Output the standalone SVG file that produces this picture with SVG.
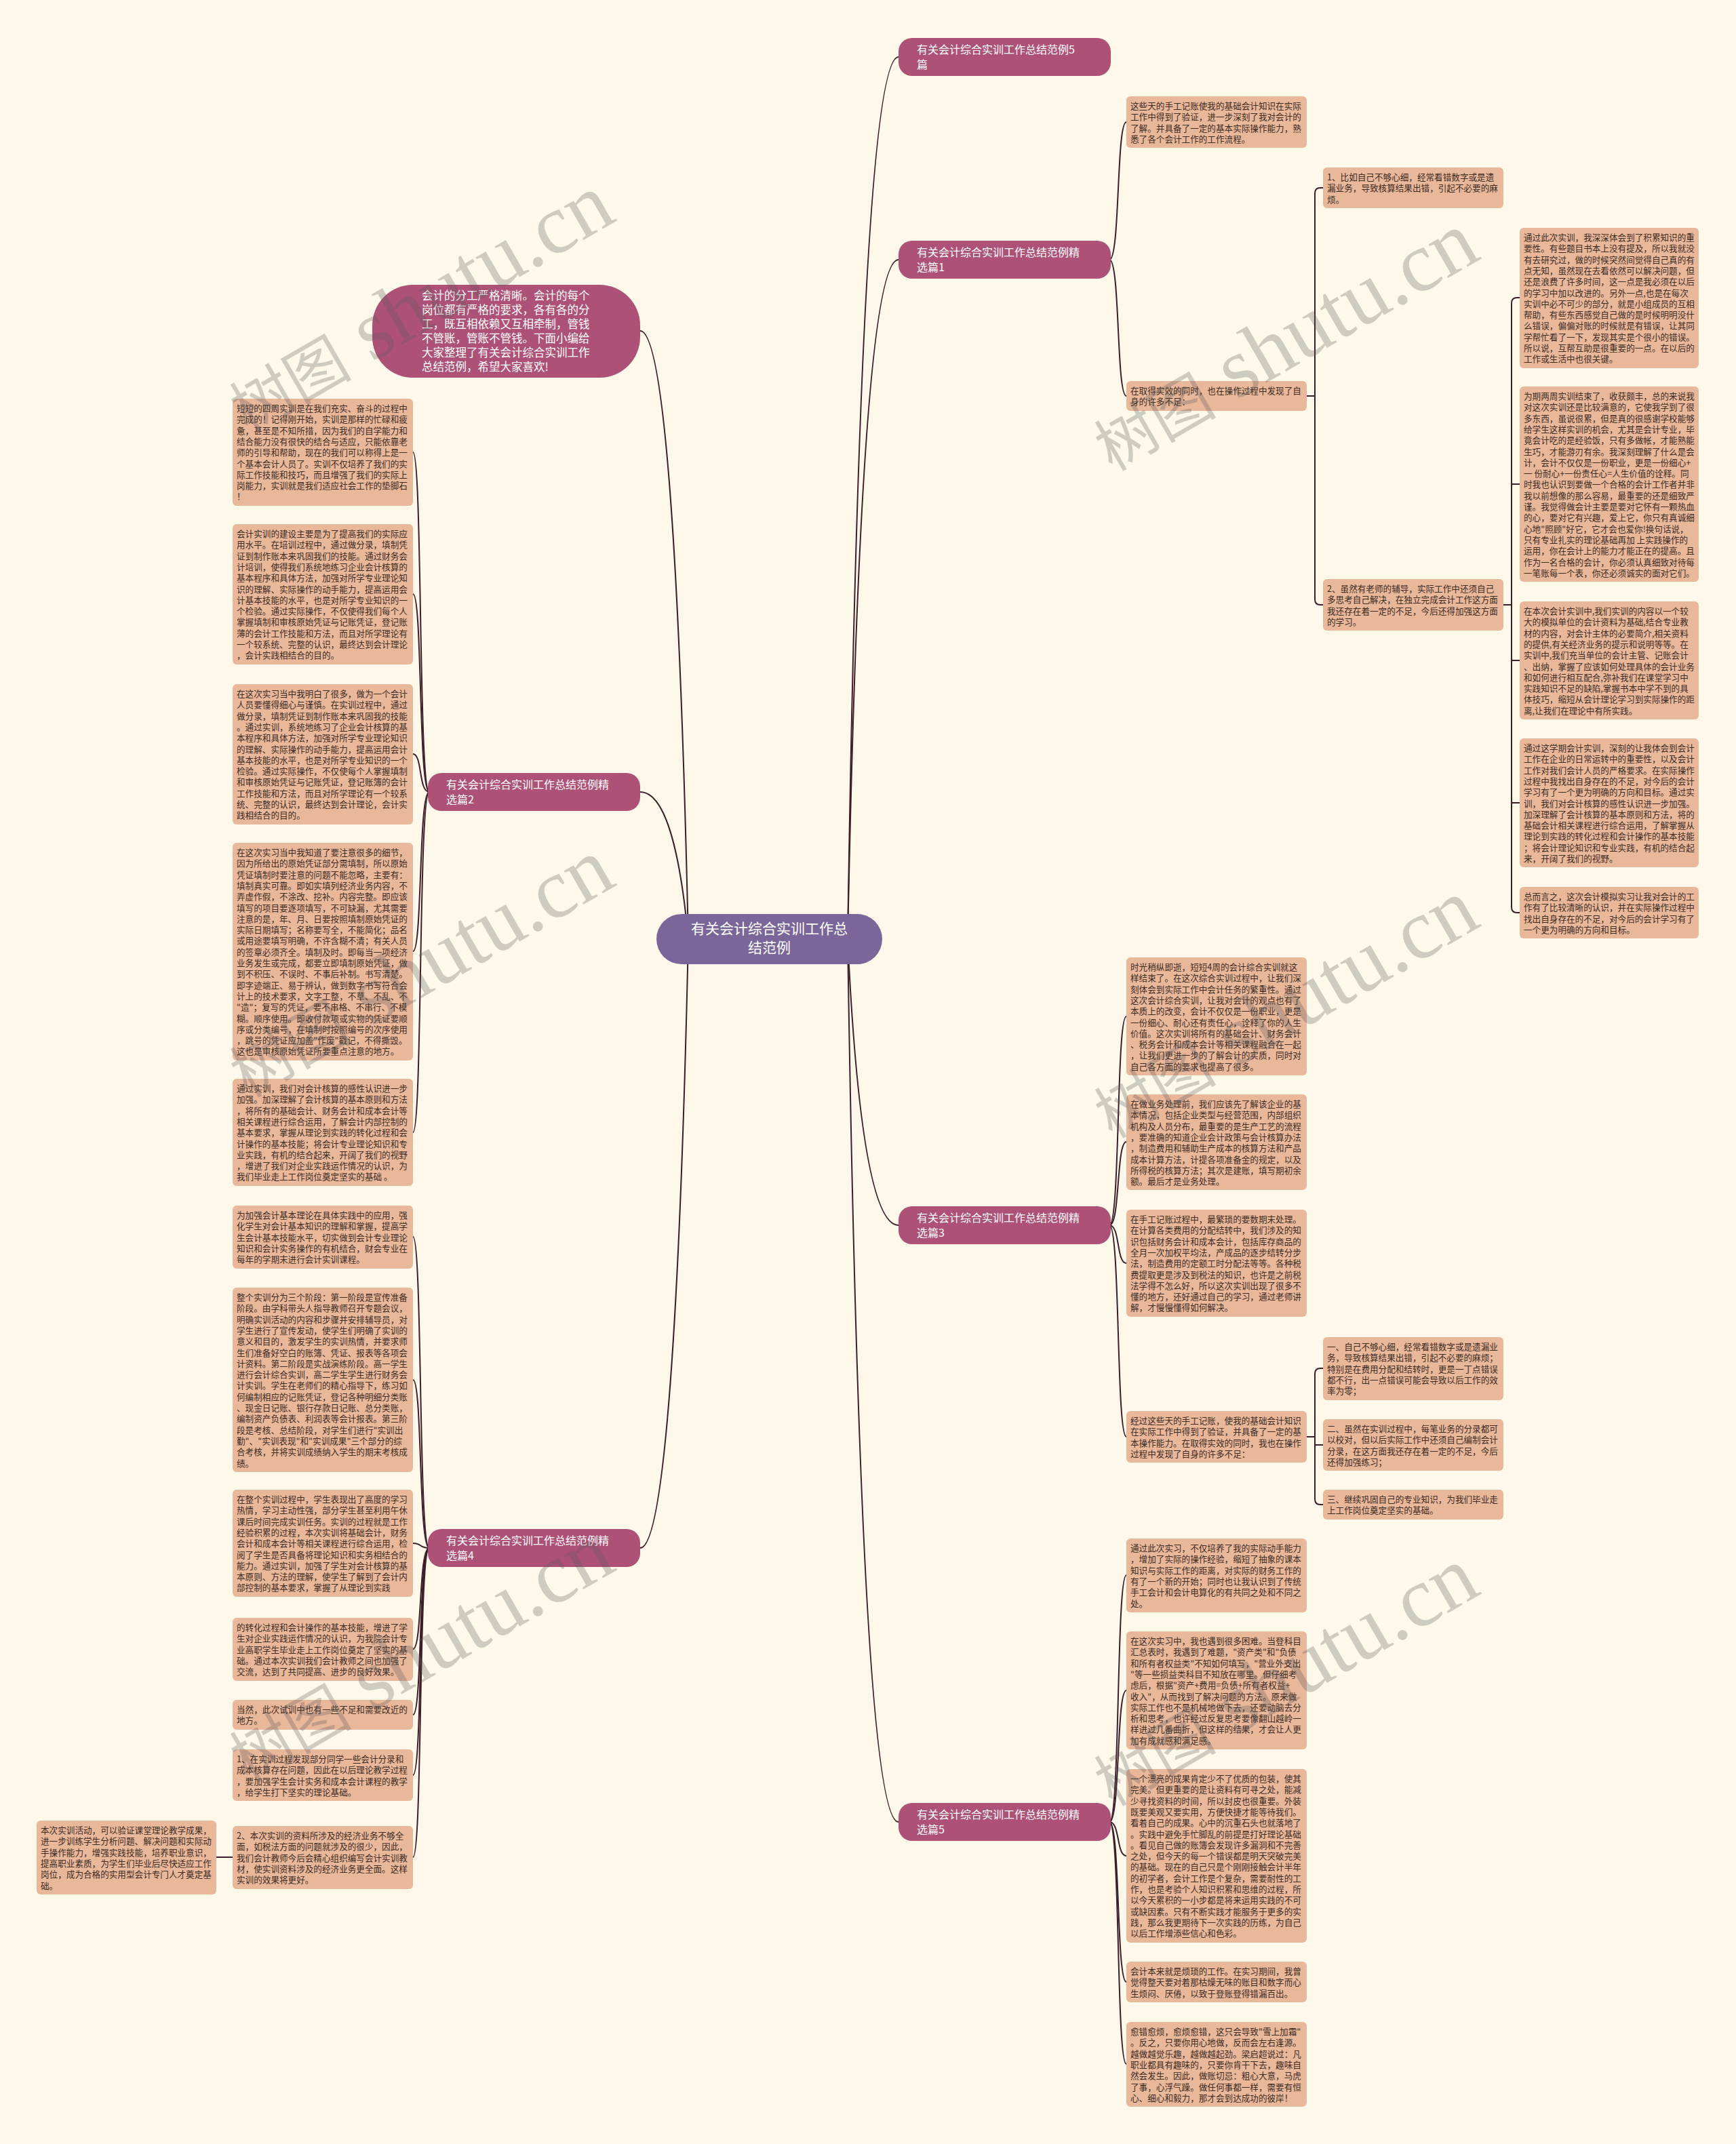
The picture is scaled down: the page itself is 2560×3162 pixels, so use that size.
<svg xmlns="http://www.w3.org/2000/svg" width="2560" height="3162" viewBox="0 0 2560 3162">
<style>
.bg{fill:#fdf8e9}
.leaf rect{fill:#e9b89b}
.leaf text{font-family:"Noto Sans CJK SC","Noto Sans",sans-serif;font-size:12.6px;fill:#3d2b1f}
.br rect{fill:#ad5276}
.br text{font-family:"Noto Sans CJK SC","Noto Sans",sans-serif;font-size:16px;fill:#ffffff}
.ct rect{fill:#7b6699}
.ct text{font-family:"Noto Sans CJK SC","Noto Sans",sans-serif;font-size:21px;fill:#ffffff;text-anchor:middle}
.intro text{font-family:"Noto Sans CJK SC","Noto Sans",sans-serif;font-size:16.5px;fill:#ffffff}
.conn path{fill:none;stroke:#3d1f2a;stroke-width:2}
.wm{font-family:"Noto Sans CJK SC",sans-serif;fill:#555555;fill-opacity:0.28}
.wm .en{font-family:"Liberation Serif",serif}
</style>
<rect class="bg" x="0" y="0" width="2560" height="3162"/>

<g id="connectors" class="conn">
<path d="M1250 1385 C1260 735,1280 84,1325 84"/>
<path d="M1250 1385 C1260 884,1280 383,1325 383"/>
<path d="M1250 1385 C1260 1596,1280 1807,1325 1807"/>
<path d="M1250 1385 C1260 2036,1280 2687,1325 2687"/>
<path d="M1015 1385 C1005 937,985 488,944 488"/>
<path d="M1015 1385 C1005 1276,985 1168,944 1168"/>
<path d="M1015 1385 C1005 1834,985 2283,944 2283"/>
<path d="M1636 383 C1652 383,1646 180,1661 180"/>
<path d="M1636 383 C1652 383,1646 584,1661 584"/>
<path d="M1636 1807 C1652 1807,1646 1499,1661 1499"/>
<path d="M1636 1807 C1652 1807,1646 1684,1661 1684"/>
<path d="M1636 1807 C1652 1807,1646 1863,1661 1863"/>
<path d="M1636 1807 C1652 1807,1646 2119,1661 2119"/>
<path d="M1636 2687 C1652 2687,1646 2323,1661 2323"/>
<path d="M1636 2687 C1652 2687,1646 2493,1661 2493"/>
<path d="M1636 2687 C1652 2687,1646 2737,1661 2737"/>
<path d="M1636 2687 C1652 2687,1646 2923,1661 2923"/>
<path d="M1636 2687 C1652 2687,1646 3044,1661 3044"/>
<path d="M633 1168 C617 1168,623 667,609 667"/>
<path d="M633 1168 C617 1168,623 876,609 876"/>
<path d="M633 1168 C617 1168,623 1112,609 1112"/>
<path d="M633 1168 C617 1168,623 1403,609 1403"/>
<path d="M633 1168 C617 1168,623 1670,609 1670"/>
<path d="M633 2283 C617 2283,623 1824,609 1824"/>
<path d="M633 2283 C617 2283,623 2035,609 2035"/>
<path d="M633 2283 C617 2283,623 2276,609 2276"/>
<path d="M633 2283 C617 2283,623 2432,609 2432"/>
<path d="M633 2283 C617 2283,623 2529,609 2529"/>
<path d="M633 2283 C617 2283,623 2618,609 2618"/>
<path d="M633 2283 C617 2283,623 2739,609 2739"/>
<path d="M1927 584 H1939"/>
<path d="M1951 277 H1947 Q1939 277 1939 285 V884 Q1939 892 1947 892 H1951"/>
<path d="M2217 892 H2229"/>
<path d="M2241 439 H2237 Q2229 439 2229 447 V1338 Q2229 1346 2237 1346 H2241"/>
<path d="M2229 714 H2241"/>
<path d="M2229 974 H2241"/>
<path d="M2229 1184 H2241"/>
<path d="M1927 2119 H1939"/>
<path d="M1951 2018 H1947 Q1939 2018 1939 2026 V2211 Q1939 2219 1947 2219 H1951"/>
<path d="M1939 2131 H1951"/>
<path d="M343 2739 H319"/>
</g>

<g id="center" class="ct">
<rect x="968" y="1348" width="333" height="74" rx="37"/>
<text x="1134.5" y="1377">有关会计综合实训工作总</text>
<text x="1134.5" y="1405">结范例</text>
</g>

<g id="intro" class="intro">
<rect x="549" y="420" width="395" height="137" rx="60" fill="#ad5276"/>
<text x="622" y="442">会计的分工严格清晰。会计的每个</text>
<text x="622" y="463">岗位都有严格的要求，各有各的分</text>
<text x="622" y="484">工，既互相依赖又互相牵制，管钱</text>
<text x="622" y="505">不管账，管账不管钱。下面小编给</text>
<text x="622" y="526">大家整理了有关会计综合实训工作</text>
<text x="622" y="547">总结范例，希望大家喜欢!</text>
</g>

<g id="n-5pian" class="br"><rect x="1325" y="56" width="313" height="56" rx="20"/><text x="1352" y="79">有关会计综合实训工作总结范例5</text><text x="1352" y="101">篇</text></g>
<g id="n-p1" class="br"><rect x="1325" y="355" width="313" height="56" rx="20"/><text x="1352" y="378">有关会计综合实训工作总结范例精</text><text x="1352" y="400">选篇1</text></g>
<g id="n-p3" class="br"><rect x="1325" y="1779" width="313" height="56" rx="20"/><text x="1352" y="1802">有关会计综合实训工作总结范例精</text><text x="1352" y="1824">选篇3</text></g>
<g id="n-p5" class="br"><rect x="1325" y="2659" width="313" height="56" rx="20"/><text x="1352" y="2682">有关会计综合实训工作总结范例精</text><text x="1352" y="2704">选篇5</text></g>
<g id="n-p2" class="br"><rect x="631" y="1140" width="313" height="56" rx="20"/><text x="658" y="1163">有关会计综合实训工作总结范例精</text><text x="658" y="1185">选篇2</text></g>
<g id="n-p4" class="br"><rect x="631" y="2255" width="313" height="56" rx="20"/><text x="658" y="2278">有关会计综合实训工作总结范例精</text><text x="658" y="2300">选篇4</text></g>

<g id="r0" class="leaf"><rect x="1661" y="142" width="266" height="76" rx="6"/><text x="1667" y="161"><tspan x="1667">这些天的手工记账使我的基础会计知识在实际</tspan><tspan x="1667" dy="16.3">工作中得到了验证，进一步深刻了我对会计的</tspan><tspan x="1667" dy="16.3">了解。并具备了一定的基本实际操作能力，熟</tspan><tspan x="1667" dy="16.3">悉了各个会计工作的工作流程。</tspan></text></g>
<g id="r1a" class="leaf"><rect x="1661" y="562" width="266" height="44" rx="6"/><text x="1667" y="581"><tspan x="1667">在取得实效的同时，也在操作过程中发现了自</tspan><tspan x="1667" dy="16.3">身的许多不足：</tspan></text></g>
<g id="r1b1" class="leaf"><rect x="1951" y="247" width="266" height="60" rx="6"/><text x="1957" y="266"><tspan x="1957">1、比如自己不够心细，经常看错数字或是遗</tspan><tspan x="1957" dy="16.3">漏业务，导致核算结果出错，引起不必要的麻</tspan><tspan x="1957" dy="16.3">烦。</tspan></text></g>
<g id="r1b2" class="leaf"><rect x="1951" y="854" width="266" height="76" rx="6"/><text x="1957" y="873"><tspan x="1957">2、虽然有老师的辅导，实际工作中还须自己</tspan><tspan x="1957" dy="16.3">多思考自己解决，在独立完成会计工作这方面</tspan><tspan x="1957" dy="16.3">我还存在着一定的不足，今后还得加强这方面</tspan><tspan x="1957" dy="16.3">的学习。</tspan></text></g>
<g id="r1c1" class="leaf"><rect x="2241" y="336" width="264" height="207" rx="6"/><text x="2247" y="355"><tspan x="2247">通过此次实训，我深深体会到了积累知识的重</tspan><tspan x="2247" dy="16.3">要性。有些题目书本上没有提及，所以我就没</tspan><tspan x="2247" dy="16.3">有去研究过，做的时候突然间觉得自己真的有</tspan><tspan x="2247" dy="16.3">点无知，虽然现在去看依然可以解决问题，但</tspan><tspan x="2247" dy="16.3">还是浪费了许多时间，这一点是我必须在以后</tspan><tspan x="2247" dy="16.3">的学习中加以改进的。另外一点,也是在每次</tspan><tspan x="2247" dy="16.3">实训中必不可少的部分，就是小组成员的互相</tspan><tspan x="2247" dy="16.3">帮助，有些东西感觉自己做的是时候明明没什</tspan><tspan x="2247" dy="16.3">么错误，偏偏对账的时候就是有错误，让其同</tspan><tspan x="2247" dy="16.3">学帮忙看了一下，发现其实是个很小的错误。</tspan><tspan x="2247" dy="16.3">所以说，互帮互助是很重要的一点。在以后的</tspan><tspan x="2247" dy="16.3">工作或生活中也很关键。</tspan></text></g>
<g id="r1c2" class="leaf"><rect x="2241" y="570" width="264" height="288" rx="6"/><text x="2247" y="589"><tspan x="2247">为期两周实训结束了，收获颇丰，总的来说我</tspan><tspan x="2247" dy="16.3">对这次实训还是比较满意的，它使我学到了很</tspan><tspan x="2247" dy="16.3">多东西，虽说很累，但是真的很感谢学校能够</tspan><tspan x="2247" dy="16.3">给学生这样实训的机会，尤其是会计专业，毕</tspan><tspan x="2247" dy="16.3">竟会计吃的是经验饭，只有多做帐，才能熟能</tspan><tspan x="2247" dy="16.3">生巧，才能游刃有余。我深刻理解了什么是会</tspan><tspan x="2247" dy="16.3">计，会计不仅仅是一份职业，更是一份细心+</tspan><tspan x="2247" dy="16.3">一 份耐心+一份责任心=人生价值的诠释。同</tspan><tspan x="2247" dy="16.3">时我也认识到要做一个合格的会计工作者并非</tspan><tspan x="2247" dy="16.3">我以前想像的那么容易，最重要的还是细致严</tspan><tspan x="2247" dy="16.3">谨。我觉得做会计主要是要对它怀有一颗热血</tspan><tspan x="2247" dy="16.3">的心，要对它有兴趣，爱上它，你只有真诚细</tspan><tspan x="2247" dy="16.3">心地"照顾"好它，它才会也爱你!换句话说，</tspan><tspan x="2247" dy="16.3">只有专业扎实的理论基础再加 上实践操作的</tspan><tspan x="2247" dy="16.3">运用，你在会计上的能力才能正在的提高。且</tspan><tspan x="2247" dy="16.3">作为一名合格的会计，你必须认真细致对待每</tspan><tspan x="2247" dy="16.3">一笔账每一个表，你还必须诚实的面对它们。</tspan></text></g>
<g id="r1c3" class="leaf"><rect x="2241" y="887" width="264" height="174" rx="6"/><text x="2247" y="906"><tspan x="2247">在本次会计实训中,我们实训的内容以一个较</tspan><tspan x="2247" dy="16.3">大的模拟单位的会计资料为基础,结合专业教</tspan><tspan x="2247" dy="16.3">材的内容，对会计主体的必要简介,相关资料</tspan><tspan x="2247" dy="16.3">的提供,有关经济业务的提示和说明等等。在</tspan><tspan x="2247" dy="16.3">实训中,我们充当单位的会计主管、记账会计</tspan><tspan x="2247" dy="16.3">、出纳，掌握了应该如何处理具体的会计业务</tspan><tspan x="2247" dy="16.3">和如何进行相互配合,弥补我们在课堂学习中</tspan><tspan x="2247" dy="16.3">实践知识不足的缺陷,掌握书本中学不到的具</tspan><tspan x="2247" dy="16.3">体技巧，缩短从会计理论学习到实际操作的距</tspan><tspan x="2247" dy="16.3">离,让我们在理论中有所实践。</tspan></text></g>
<g id="r1c4" class="leaf"><rect x="2241" y="1089" width="264" height="190" rx="6"/><text x="2247" y="1108"><tspan x="2247">通过这学期会计实训，深刻的让我体会到会计</tspan><tspan x="2247" dy="16.3">工作在企业的日常运转中的重要性，以及会计</tspan><tspan x="2247" dy="16.3">工作对我们会计人员的严格要求。在实际操作</tspan><tspan x="2247" dy="16.3">过程中我找出自身存在的不足，对今后的会计</tspan><tspan x="2247" dy="16.3">学习有了一个更为明确的方向和目标。通过实</tspan><tspan x="2247" dy="16.3">训，我们对会计核算的感性认识进一步加强。</tspan><tspan x="2247" dy="16.3">加深理解了会计核算的基本原则和方法，将的</tspan><tspan x="2247" dy="16.3">基础会计相关课程进行综合运用，了解掌握从</tspan><tspan x="2247" dy="16.3">理论到实践的转化过程和会计操作的基本技能</tspan><tspan x="2247" dy="16.3">；将会计理论知识和专业实践，有机的结合起</tspan><tspan x="2247" dy="16.3">来，开阔了我们的视野。</tspan></text></g>
<g id="r1c5" class="leaf"><rect x="2241" y="1308" width="264" height="76" rx="6"/><text x="2247" y="1327"><tspan x="2247">总而言之，这次会计模拟实习让我对会计的工</tspan><tspan x="2247" dy="16.3">作有了比较清晰的认识，并在实际操作过程中</tspan><tspan x="2247" dy="16.3">找出自身存在的不足，对今后的会计学习有了</tspan><tspan x="2247" dy="16.3">一个更为明确的方向和目标。</tspan></text></g>

<g id="r3a" class="leaf"><rect x="1661" y="1412" width="266" height="174" rx="6"/><text x="1667" y="1431"><tspan x="1667">时光稍纵即逝，短短4周的会计综合实训就这</tspan><tspan x="1667" dy="16.3">样结束了。在这次综合实训过程中，让我们深</tspan><tspan x="1667" dy="16.3">刻体会到实际工作中会计任务的繁重性。通过</tspan><tspan x="1667" dy="16.3">这次会计综合实训，让我对会计的观点也有了</tspan><tspan x="1667" dy="16.3">本质上的改变，会计不仅仅是一份职业，更是</tspan><tspan x="1667" dy="16.3">一份细心、耐心还有责任心，诠释了你的人生</tspan><tspan x="1667" dy="16.3">价值。这次实训将所有的基础会计、财务会计</tspan><tspan x="1667" dy="16.3">、税务会计和成本会计等相关课程融合在一起</tspan><tspan x="1667" dy="16.3">，让我们更进一步的了解会计的实质，同时对</tspan><tspan x="1667" dy="16.3">自己各方面的要求也提高了很多。</tspan></text></g>
<g id="r3b" class="leaf"><rect x="1661" y="1614" width="266" height="141" rx="6"/><text x="1667" y="1633"><tspan x="1667">在做业务处理前，我们应该先了解该企业的基</tspan><tspan x="1667" dy="16.3">本情况，包括企业类型与经营范围，内部组织</tspan><tspan x="1667" dy="16.3">机构及人员分布，最重要的是生产工艺的流程</tspan><tspan x="1667" dy="16.3">，要准确的知道企业会计政策与会计核算办法</tspan><tspan x="1667" dy="16.3">，制造费用和辅助生产成本的核算方法和产品</tspan><tspan x="1667" dy="16.3">成本计算方法，计提各项准备金的规定，以及</tspan><tspan x="1667" dy="16.3">所得税的核算方法；其次是建账，填写期初余</tspan><tspan x="1667" dy="16.3">额。最后才是业务处理。</tspan></text></g>
<g id="r3c" class="leaf"><rect x="1661" y="1784" width="266" height="158" rx="6"/><text x="1667" y="1803"><tspan x="1667">在手工记账过程中，最繁琐的要数期末处理。</tspan><tspan x="1667" dy="16.3">在计算各类费用的分配结转中，我们涉及的知</tspan><tspan x="1667" dy="16.3">识包括财务会计和成本会计，包括库存商品的</tspan><tspan x="1667" dy="16.3">全月一次加权平均法，产成品的逐步结转分步</tspan><tspan x="1667" dy="16.3">法，制造费用的定额工时分配法等等。各种税</tspan><tspan x="1667" dy="16.3">费提取更是涉及到税法的知识，也许是之前税</tspan><tspan x="1667" dy="16.3">法学得不怎么好，所以这次实训出现了很多不</tspan><tspan x="1667" dy="16.3">懂的地方，还好通过自己的学习，通过老师讲</tspan><tspan x="1667" dy="16.3">解，才慢慢懂得如何解决。</tspan></text></g>
<g id="r3d" class="leaf"><rect x="1661" y="2081" width="266" height="76" rx="6"/><text x="1667" y="2100"><tspan x="1667">经过这些天的手工记账，使我的基础会计知识</tspan><tspan x="1667" dy="16.3">在实际工作中得到了验证，并具备了一定的基</tspan><tspan x="1667" dy="16.3">本操作能力。在取得实效的同时，我也在操作</tspan><tspan x="1667" dy="16.3">过程中发现了自身的许多不足：</tspan></text></g>
<g id="r3e1" class="leaf"><rect x="1951" y="1972" width="266" height="93" rx="6"/><text x="1957" y="1991"><tspan x="1957">一、自己不够心细，经常看错数字或是遗漏业</tspan><tspan x="1957" dy="16.3">务，导致核算结果出错，引起不必要的麻烦；</tspan><tspan x="1957" dy="16.3">特别是在费用分配和结转时，更是一丁点错误</tspan><tspan x="1957" dy="16.3">都不行，出一点错误可能会导致以后工作的效</tspan><tspan x="1957" dy="16.3">率为零；</tspan></text></g>
<g id="r3e2" class="leaf"><rect x="1951" y="2093" width="266" height="76" rx="6"/><text x="1957" y="2112"><tspan x="1957">二、虽然在实训过程中，每笔业务的分录都可</tspan><tspan x="1957" dy="16.3">以校对，但以后实际工作中还须自己编制会计</tspan><tspan x="1957" dy="16.3">分录，在这方面我还存在着一定的不足，今后</tspan><tspan x="1957" dy="16.3">还得加强练习；</tspan></text></g>
<g id="r3e3" class="leaf"><rect x="1951" y="2197" width="266" height="44" rx="6"/><text x="1957" y="2216"><tspan x="1957">三、继续巩固自己的专业知识，为我们毕业走</tspan><tspan x="1957" dy="16.3">上工作岗位奠定坚实的基础。</tspan></text></g>

<g id="r5a" class="leaf"><rect x="1661" y="2269" width="266" height="109" rx="6"/><text x="1667" y="2288"><tspan x="1667">通过此次实习，不仅培养了我的实际动手能力</tspan><tspan x="1667" dy="16.3">，增加了实际的操作经验，缩短了抽象的课本</tspan><tspan x="1667" dy="16.3">知识与实际工作的距离，对实际的财务工作的</tspan><tspan x="1667" dy="16.3">有了一个新的开始；同时也让我认识到了传统</tspan><tspan x="1667" dy="16.3">手工会计和会计电算化的有共同之处和不同之</tspan><tspan x="1667" dy="16.3">处。</tspan></text></g>
<g id="r5b" class="leaf"><rect x="1661" y="2406" width="266" height="174" rx="6"/><text x="1667" y="2425"><tspan x="1667">在这次实习中，我也遇到很多困难。当登科目</tspan><tspan x="1667" dy="16.3">汇总表时，我遇到了难题，"资产类"和"负债</tspan><tspan x="1667" dy="16.3">和所有者权益类"不知如何填写，"营业外支出</tspan><tspan x="1667" dy="16.3">"等一些损益类科目不知放在哪里。但仔细考</tspan><tspan x="1667" dy="16.3">虑后，根据"资产+费用=负债+所有者权益+</tspan><tspan x="1667" dy="16.3">收入"，从而找到了解决问题的方法。原来做</tspan><tspan x="1667" dy="16.3">实际工作也不是机械地做下去，还要动脑去分</tspan><tspan x="1667" dy="16.3">析和思考，也许经过反复思考要像翻山越岭一</tspan><tspan x="1667" dy="16.3">样进过几番曲折，但这样的结果，才会让人更</tspan><tspan x="1667" dy="16.3">加有成就感和满足感。</tspan></text></g>
<g id="r5c" class="leaf"><rect x="1661" y="2609" width="266" height="256" rx="6"/><text x="1667" y="2628"><tspan x="1667">一个漂亮的成果肯定少不了优质的包装，使其</tspan><tspan x="1667" dy="16.3">完美。但更重要的是让资料有可寻之处，能减</tspan><tspan x="1667" dy="16.3">少寻找资料的时间，所以封皮也很重要。外装</tspan><tspan x="1667" dy="16.3">既要美观又要实用，方便快捷才能等待我们。</tspan><tspan x="1667" dy="16.3">看着自己的成果。心中的沉重石头也就落地了</tspan><tspan x="1667" dy="16.3">。实践中避免手忙脚乱的前提是打好理论基础</tspan><tspan x="1667" dy="16.3">。看见自己做的账簿会发现许多漏洞和不完善</tspan><tspan x="1667" dy="16.3">之处，但今天的每一个错误都是明天突破完美</tspan><tspan x="1667" dy="16.3">的基础。现在的自己只是个刚刚接触会计半年</tspan><tspan x="1667" dy="16.3">的初学者，会计工作是个复杂，需要耐性的工</tspan><tspan x="1667" dy="16.3">作，也是考验个人知识积累和思维的过程，所</tspan><tspan x="1667" dy="16.3">以今天累积的一小步都是将来运用实践的不可</tspan><tspan x="1667" dy="16.3">或缺因素。只有不断实践才能服务于更多的实</tspan><tspan x="1667" dy="16.3">践，那么我更期待下一次实践的历练，为自己</tspan><tspan x="1667" dy="16.3">以后工作增添些信心和色彩。</tspan></text></g>
<g id="r5d" class="leaf"><rect x="1661" y="2893" width="266" height="60" rx="6"/><text x="1667" y="2912"><tspan x="1667">会计本来就是烦琐的工作。在实习期间，我曾</tspan><tspan x="1667" dy="16.3">觉得整天要对着那枯燥无味的账目和数字而心</tspan><tspan x="1667" dy="16.3">生烦闷、厌倦，以致于登账登得错漏百出。</tspan></text></g>
<g id="r5e" class="leaf"><rect x="1661" y="2982" width="266" height="125" rx="6"/><text x="1667" y="3001"><tspan x="1667">愈错愈烦，愈烦愈错，这只会导致"雪上加霜"</tspan><tspan x="1667" dy="16.3">。反之，只要你用心地做，反而会左右逢源。</tspan><tspan x="1667" dy="16.3">越做越觉乐趣，越做越起劲。梁启超说过：凡</tspan><tspan x="1667" dy="16.3">职业都具有趣味的，只要你肯干下去，趣味自</tspan><tspan x="1667" dy="16.3">然会发生。因此，做账切忌：粗心大意，马虎</tspan><tspan x="1667" dy="16.3">了事，心浮气躁。做任何事都一样，需要有恒</tspan><tspan x="1667" dy="16.3">心、细心和毅力，那才会到达成功的彼岸！</tspan></text></g>

<g id="l2a" class="leaf"><rect x="343" y="588" width="266" height="158" rx="6"/><text x="349" y="607"><tspan x="349">短短的四周实训是在我们充实、奋斗的过程中</tspan><tspan x="349" dy="16.3">完成的！记得刚开始，实训是那样的忙碌和疲</tspan><tspan x="349" dy="16.3">惫，甚至是不知所措，因为我们的自学能力和</tspan><tspan x="349" dy="16.3">结合能力没有很快的结合与适应，只能依靠老</tspan><tspan x="349" dy="16.3">师的引导和帮助，现在的我们可以称得上是一</tspan><tspan x="349" dy="16.3">个基本会计人员了。实训不仅培养了我们的实</tspan><tspan x="349" dy="16.3">际工作技能和技巧，而且增强了我们的实际上</tspan><tspan x="349" dy="16.3">岗能力，实训就是我们适应社会工作的垫脚石</tspan><tspan x="349" dy="16.3">！</tspan></text></g>
<g id="l2b" class="leaf"><rect x="343" y="773" width="266" height="207" rx="6"/><text x="349" y="792"><tspan x="349">会计实训的建设主要是为了提高我们的实际应</tspan><tspan x="349" dy="16.3">用水平。在培训过程中，通过做分录，填制凭</tspan><tspan x="349" dy="16.3">证到制作账本来巩固我们的技能。通过财务会</tspan><tspan x="349" dy="16.3">计培训，使得我们系统地练习企业会计核算的</tspan><tspan x="349" dy="16.3">基本程序和具体方法，加强对所学专业理论知</tspan><tspan x="349" dy="16.3">识的理解、实际操作的动手能力，提高运用会</tspan><tspan x="349" dy="16.3">计基本技能的水平，也是对所学专业知识的一</tspan><tspan x="349" dy="16.3">个检验。通过实际操作，不仅使得我们每个人</tspan><tspan x="349" dy="16.3">掌握填制和审核原始凭证与记账凭证，登记账</tspan><tspan x="349" dy="16.3">薄的会计工作技能和方法，而且对所学理论有</tspan><tspan x="349" dy="16.3">一个较系统、完整的认识，最终达到会计理论</tspan><tspan x="349" dy="16.3">，会计实践相结合的目的。</tspan></text></g>
<g id="l2c" class="leaf"><rect x="343" y="1009" width="266" height="207" rx="6"/><text x="349" y="1028"><tspan x="349">在这次实习当中我明白了很多，做为一个会计</tspan><tspan x="349" dy="16.3">人员要懂得细心与谨慎。在实训过程中，通过</tspan><tspan x="349" dy="16.3">做分录，填制凭证到制作账本来巩固我的技能</tspan><tspan x="349" dy="16.3">。通过实训，系统地练习了企业会计核算的基</tspan><tspan x="349" dy="16.3">本程序和具体方法，加强对所学专业理论知识</tspan><tspan x="349" dy="16.3">的理解、实际操作的动手能力，提高运用会计</tspan><tspan x="349" dy="16.3">基本技能的水平，也是对所学专业知识的一个</tspan><tspan x="349" dy="16.3">检验。通过实际操作，不仅使每个人掌握填制</tspan><tspan x="349" dy="16.3">和审核原始凭证与记账凭证，登记账簿的会计</tspan><tspan x="349" dy="16.3">工作技能和方法，而且对所学理论有一个较系</tspan><tspan x="349" dy="16.3">统、完整的认识，最终达到会计理论，会计实</tspan><tspan x="349" dy="16.3">践相结合的目的。</tspan></text></g>
<g id="l2d" class="leaf"><rect x="343" y="1243" width="266" height="321" rx="6"/><text x="349" y="1262"><tspan x="349">在这次实习当中我知道了要注意很多的细节，</tspan><tspan x="349" dy="16.3">因为所给出的原始凭证部分需填制，所以原始</tspan><tspan x="349" dy="16.3">凭证填制时要注意的问题不能忽略，主要有：</tspan><tspan x="349" dy="16.3">填制真实可靠。即如实填列经济业务内容，不</tspan><tspan x="349" dy="16.3">弄虚作假，不涂改、挖补。内容完整。即应该</tspan><tspan x="349" dy="16.3">填写的项目要逐项填写，不可缺漏，尤其需要</tspan><tspan x="349" dy="16.3">注意的是，年、月、日要按照填制原始凭证的</tspan><tspan x="349" dy="16.3">实际日期填写；名称要写全，不能简化；品名</tspan><tspan x="349" dy="16.3">或用途要填写明确，不许含糊不清；有关人员</tspan><tspan x="349" dy="16.3">的签章必须齐全。填制及时。即每当一项经济</tspan><tspan x="349" dy="16.3">业务发生或完成，都要立即填制原始凭证，做</tspan><tspan x="349" dy="16.3">到不积压、不误时、不事后补制。书写清楚。</tspan><tspan x="349" dy="16.3">即字迹端正、易于辨认，做到数字书写符合会</tspan><tspan x="349" dy="16.3">计上的技术要求，文字工整，不草、不乱、不</tspan><tspan x="349" dy="16.3">"造"；复写的凭证，要不串格、不串行、不模</tspan><tspan x="349" dy="16.3">糊。顺序使用。即收付款项或实物的凭证要顺</tspan><tspan x="349" dy="16.3">序或分类编号，在填制时按照编号的次序使用</tspan><tspan x="349" dy="16.3">，跳号的凭证应加盖"作废"戳记，不得撕毁。</tspan><tspan x="349" dy="16.3">这也是审核原始凭证所要重点注意的地方。</tspan></text></g>
<g id="l2e" class="leaf"><rect x="343" y="1591" width="266" height="158" rx="6"/><text x="349" y="1610"><tspan x="349">通过实训，我们对会计核算的感性认识进一步</tspan><tspan x="349" dy="16.3">加强。加深理解了会计核算的基本原则和方法</tspan><tspan x="349" dy="16.3">，将所有的基础会计、财务会计和成本会计等</tspan><tspan x="349" dy="16.3">相关课程进行综合运用，了解会计内部控制的</tspan><tspan x="349" dy="16.3">基本要求，掌握从理论到实践的转化过程和会</tspan><tspan x="349" dy="16.3">计操作的基本技能；将会计专业理论知识和专</tspan><tspan x="349" dy="16.3">业实践，有机的结合起来，开阔了我们的视野</tspan><tspan x="349" dy="16.3">，增进了我们对企业实践运作情况的认识，为</tspan><tspan x="349" dy="16.3">我们毕业走上工作岗位奠定坚实的基础 。</tspan></text></g>

<g id="l4a" class="leaf"><rect x="343" y="1778" width="266" height="93" rx="6"/><text x="349" y="1797"><tspan x="349">为加强会计基本理论在具体实践中的应用，强</tspan><tspan x="349" dy="16.3">化学生对会计基本知识的理解和掌握，提高学</tspan><tspan x="349" dy="16.3">生会计基本技能水平，切实做到会计专业理论</tspan><tspan x="349" dy="16.3">知识和会计实务操作的有机结合，财会专业在</tspan><tspan x="349" dy="16.3">每年的学期末进行会计实训课程。</tspan></text></g>
<g id="l4b" class="leaf"><rect x="343" y="1899" width="266" height="272" rx="6"/><text x="349" y="1918"><tspan x="349">整个实训分为三个阶段：第一阶段是宣传准备</tspan><tspan x="349" dy="16.3">阶段。由学科带头人指导教师召开专题会议，</tspan><tspan x="349" dy="16.3">明确实训活动的内容和步骤并安排辅导员，对</tspan><tspan x="349" dy="16.3">学生进行了宣传发动，使学生们明确了实训的</tspan><tspan x="349" dy="16.3">意义和目的，激发学生的实训热情，并要求师</tspan><tspan x="349" dy="16.3">生们准备好空白的账簿、凭证、报表等各项会</tspan><tspan x="349" dy="16.3">计资料。第二阶段是实战演练阶段。高一学生</tspan><tspan x="349" dy="16.3">进行会计综合实训，高二学生学生进行财务会</tspan><tspan x="349" dy="16.3">计实训。学生在老师们的精心指导下，练习如</tspan><tspan x="349" dy="16.3">何编制相应的记账凭证，登记各种明细分类账</tspan><tspan x="349" dy="16.3">、现金日记账、银行存款日记账、总分类账，</tspan><tspan x="349" dy="16.3">编制资产负债表、利润表等会计报表。第三阶</tspan><tspan x="349" dy="16.3">段是考核、总结阶段，对学生们进行"实训出</tspan><tspan x="349" dy="16.3">勤"、"实训表现"和"实训成果"三个部分的综</tspan><tspan x="349" dy="16.3">合考核，并将实训成绩纳入学生的期末考核成</tspan><tspan x="349" dy="16.3">绩。</tspan></text></g>
<g id="l4c" class="leaf"><rect x="343" y="2197" width="266" height="158" rx="6"/><text x="349" y="2216"><tspan x="349">在整个实训过程中，学生表现出了高度的学习</tspan><tspan x="349" dy="16.3">热情，学习主动性强，部分学生甚至利用午休</tspan><tspan x="349" dy="16.3">课后时间完成实训任务。实训的过程就是工作</tspan><tspan x="349" dy="16.3">经验积累的过程，本次实训将基础会计，财务</tspan><tspan x="349" dy="16.3">会计和成本会计等相关课程进行综合运用，检</tspan><tspan x="349" dy="16.3">阅了学生是否具备将理论知识和实务相结合的</tspan><tspan x="349" dy="16.3">能力。通过实训，加强了学生对会计核算的基</tspan><tspan x="349" dy="16.3">本原则、方法的理解，使学生了解到了会计内</tspan><tspan x="349" dy="16.3">部控制的基本要求，掌握了从理论到实践</tspan></text></g>
<g id="l4d" class="leaf"><rect x="343" y="2386" width="266" height="93" rx="6"/><text x="349" y="2405"><tspan x="349">的转化过程和会计操作的基本技能，增进了学</tspan><tspan x="349" dy="16.3">生对企业实践运作情况的认识，为我院会计专</tspan><tspan x="349" dy="16.3">业高职学生毕业走上工作岗位奠定了坚实的基</tspan><tspan x="349" dy="16.3">础。通过本次实训我们会计教师之间也加强了</tspan><tspan x="349" dy="16.3">交流，达到了共同提高、进步的良好效果。</tspan></text></g>
<g id="l4e" class="leaf"><rect x="343" y="2507" width="266" height="44" rx="6"/><text x="349" y="2526"><tspan x="349">当然，此次试训中也有一些不足和需要改近的</tspan><tspan x="349" dy="16.3">地方。</tspan></text></g>
<g id="l4f" class="leaf"><rect x="343" y="2580" width="266" height="76" rx="6"/><text x="349" y="2599"><tspan x="349">1、在实训过程发现部分同学一些会计分录和</tspan><tspan x="349" dy="16.3">成本核算存在问题，因此在以后理论教学过程</tspan><tspan x="349" dy="16.3">，要加强学生会计实务和成本会计课程的教学</tspan><tspan x="349" dy="16.3">，给学生打下坚实的理论基础。</tspan></text></g>
<g id="l4g" class="leaf"><rect x="343" y="2693" width="266" height="93" rx="6"/><text x="349" y="2712"><tspan x="349">2、本次实训的资料所涉及的经济业务不够全</tspan><tspan x="349" dy="16.3">面，如税法方面的问题就涉及的很少，因此，</tspan><tspan x="349" dy="16.3">我们会计教师今后会精心组织编写会计实训教</tspan><tspan x="349" dy="16.3">材，使实训资料涉及的经济业务更全面。这样</tspan><tspan x="349" dy="16.3">实训的效果将更好。</tspan></text></g>
<g id="lf" class="leaf"><rect x="54" y="2685" width="265" height="109" rx="6"/><text x="60" y="2704"><tspan x="60">本次实训活动，可以验证课堂理论教学成果，</tspan><tspan x="60" dy="16.3">进一步训练学生分析问题、解决问题和实际动</tspan><tspan x="60" dy="16.3">手操作能力，增强实践技能，培养职业意识，</tspan><tspan x="60" dy="16.3">提高职业素质，为学生们毕业后尽快适应工作</tspan><tspan x="60" dy="16.3">岗位，成为合格的实用型会计专门人才奠定基</tspan><tspan x="60" dy="16.3">础。</tspan></text></g>

<g id="watermarks" class="wm">
<text transform="translate(365 640) rotate(-30)"><tspan font-size="90">树图</tspan><tspan class="en" font-size="125"> shutu.cn</tspan></text>
<text transform="translate(365 1620) rotate(-30)"><tspan font-size="90">树图</tspan><tspan class="en" font-size="125"> shutu.cn</tspan></text>
<text transform="translate(365 2630) rotate(-30)"><tspan font-size="90">树图</tspan><tspan class="en" font-size="125"> shutu.cn</tspan></text>
<text transform="translate(1640 696) rotate(-30)"><tspan font-size="90">树图</tspan><tspan class="en" font-size="125"> shutu.cn</tspan></text>
<text transform="translate(1640 1680) rotate(-30)"><tspan font-size="90">树图</tspan><tspan class="en" font-size="125"> shutu.cn</tspan></text>
<text transform="translate(1640 2665) rotate(-30)"><tspan font-size="90">树图</tspan><tspan class="en" font-size="125"> shutu.cn</tspan></text>
</g>
</svg>
